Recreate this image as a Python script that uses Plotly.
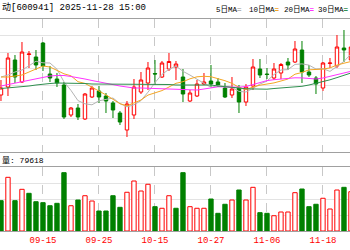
import plotly.graph_objects as go

dates = ["2025-09-05", "2025-09-08", "2025-09-09", "2025-09-10", "2025-09-11", "2025-09-12",
         "2025-09-15", "2025-09-16", "2025-09-17", "2025-09-18", "2025-09-19", "2025-09-22",
         "2025-09-23", "2025-09-24", "2025-09-25", "2025-09-26", "2025-09-29", "2025-09-30",
         "2025-10-09", "2025-10-10", "2025-10-13", "2025-10-14", "2025-10-15", "2025-10-16",
         "2025-10-17", "2025-10-20", "2025-10-21", "2025-10-22", "2025-10-23", "2025-10-24",
         "2025-10-27", "2025-10-28", "2025-10-29", "2025-10-30", "2025-10-31", "2025-11-03",
         "2025-11-04", "2025-11-05", "2025-11-06", "2025-11-07", "2025-11-10", "2025-11-11",
         "2025-11-12", "2025-11-13", "2025-11-14", "2025-11-17", "2025-11-18", "2025-11-19",
         "2025-11-20", "2025-11-21", "2025-11-24"]

opens = [105.5, 106.3, 109.0, 106.8, 109.55, 109.3, 110.7, 107.6, 107.1, 106.5,
         103.5, 104.2, 103.1, 105.3, 105.9, 105.4, 104.7, 103.7, 102.0, 103.5,
         105.8, 106.7, 107.65, 107.3, 108.1, 108.3, 107.3, 104.9, 105.4, 106.6,
         106.9, 106.8, 106.2, 105.5, 106.2, 104.8, 106.4, 108.1, 107.6, 107.2,
         107.7, 108.8, 108.8, 110.0, 107.8, 107.2, 106.2, 108.65, 108.4, 110.2,
         109.0]
highs = [107.0, 109.7, 109.5, 110.8, 109.9, 110.0, 110.8, 108.4, 107.7, 106.8,
         104.3, 104.6, 105.7, 106.4, 106.4, 105.7, 104.9, 103.9, 104.9, 107.1,
         107.8, 108.8, 109.0, 108.9, 109.7, 108.9, 108.1, 106.0, 107.0, 107.7,
         108.5, 107.2, 106.7, 107.3, 106.5, 106.6, 109.1, 109.1, 108.2, 108.7,
         108.7, 109.2, 110.9, 110.9, 108.5, 107.4, 108.8, 109.2, 111.5, 112.0,
         111.0]
lows = [104.9, 105.4, 106.7, 106.7, 108.2, 108.0, 107.9, 106.8, 106.3, 103.1,
        103.3, 103.0, 103.0, 105.2, 104.7, 103.7, 103.2, 102.5, 101.3, 103.1,
        105.6, 106.0, 106.5, 107.2, 107.9, 107.0, 104.8, 104.8, 105.3, 106.5,
        106.3, 106.3, 105.2, 105.2, 103.7, 104.4, 106.0, 107.2, 107.1, 107.0,
        107.1, 108.0, 108.7, 106.7, 107.3, 105.6, 105.9, 108.2, 108.2, 108.8,
        108.8]
closes = [106.2, 109.2, 107.3, 109.8, 109.6, 108.5, 108.4, 107.2, 106.7, 103.3,
          104.2, 103.3, 105.6, 106.2, 105.3, 104.9, 104.0, 102.8, 104.6, 106.3,
          107.0, 108.2, 107.6, 108.7, 108.85, 108.6, 105.6, 105.7, 106.6, 106.8,
          106.6, 106.5, 105.3, 106.1, 104.8, 106.3, 108.3, 107.5, 107.55, 108.1,
          108.55, 108.5, 110.1, 107.8, 107.5, 106.6, 108.7, 108.7, 110.3, 110.0,
          110.3]

ma5 = [107.3, 107.5, 107.8, 108.0, 108.42, 108.88, 108.72, 108.7, 108.08, 106.82,
       105.96, 104.94, 104.62, 104.52, 104.92, 105.06, 105.2, 104.64, 104.32, 104.52,
       104.94, 105.78, 106.74, 107.56, 108.07, 108.39, 107.87, 107.49, 107.07, 106.66,
       106.26, 106.44, 106.36, 106.26, 105.86, 105.8, 106.16, 106.6, 106.89, 107.55,
       108.0, 108.04, 108.56, 108.61, 108.49, 108.1, 108.14, 107.86, 108.36, 108.86,
       109.6]
ma10 = [107.3, 107.3, 107.4, 107.5, 107.8, 108.1, 108.4, 108.3, 108.0, 107.62,
        107.42, 106.83, 106.66, 106.3, 105.87, 105.51, 105.07, 104.63, 104.42, 104.72,
        105.0, 105.49, 105.69, 105.94, 106.3, 106.67, 106.83, 107.12, 107.32, 107.37,
        107.33, 107.16, 106.93, 106.67, 106.26, 106.03, 106.3, 106.48, 106.58, 106.71,
        106.9, 107.1, 107.58, 107.75, 108.02, 108.05, 108.09, 108.21, 108.49, 108.68,
        108.85]
ma20 = [106.4, 106.55, 106.7, 106.85, 107.0, 107.15, 107.3, 107.4, 107.45, 107.45,
        107.35, 107.25, 107.1, 106.95, 106.8, 106.65, 106.55, 106.4, 106.3, 106.2,
        106.2, 106.17, 106.17, 106.14, 106.1, 106.1, 106.05, 106.0, 106.0, 106.1,
        106.18, 106.32, 106.31, 106.3, 106.28, 106.35, 106.56, 106.78, 106.94, 107.03,
        107.1, 107.13, 107.22, 107.21, 107.16, 107.1, 107.2, 107.35, 107.53, 107.69,
        107.87]
ma30 = [106.15, 106.2, 106.3, 106.35, 106.4, 106.5, 106.6, 106.65, 106.7, 106.7,
        106.7, 106.65, 106.65, 106.6, 106.6, 106.6, 106.55, 106.55, 106.55, 106.55,
        106.55, 106.55, 106.55, 106.55, 106.55, 106.5, 106.5, 106.45, 106.45, 106.45,
        106.5, 106.4, 106.35, 106.3, 106.2, 106.12, 106.1, 106.07, 106.08, 106.15,
        106.2, 106.2, 106.27, 106.37, 106.5, 106.65, 106.82, 107.02, 107.24, 107.47,
        107.7]

volume = [75800, 134200, 75800, 104200, 94200, 73200, 70800, 63200, 69200, 145800,
          63200, 77500, 88200, 75000, 50000, 50000, 88200, 59200, 96800, 125000,
          100000, 116800, 60800, 56800, 88200, 56800, 145800, 60800, 56800, 56800,
          80000, 44200, 66800, 77500, 102500, 77500, 109200, 45800, 44200, 38200,
          47500, 47500, 95800, 105000, 60800, 66800, 81800, 55000, 102500, 109200,
          98200]
vol_up = [0, 1, 0, 1, 0, 0, 0, 0, 0, 0,
          1, 0, 1, 1, 0, 0, 0, 0, 1, 1,
          1, 1, 0, 1, 1, 0, 0, 1, 1, 1,
          0, 0, 0, 1, 0, 1, 1, 0, 0, 1,
          1, 1, 1, 0, 0, 0, 1, 1, 1, 0,
          1]

tick_dates = ["2025-09-15", "2025-09-25", "2025-10-15", "2025-10-27", "2025-11-06", "2025-11-18"]
tick_text = ["09-15", "09-25", "10-15", "10-27", "11-06", "11-18"]

title_text = "动[600941] 2025-11-28 15:00"
vol_text = "量: 79618"

RED = "#ff0000"
GREEN = "#008000"
ma_names = ["5日MA", "10日MA", "20日MA", "30日MA"]
ma_cols = ["#b4b4b4", "#f5a623", "#ff33ff", "#2f8f4f"]

fig = go.Figure()
fig.add_trace(go.Candlestick(
    x=dates, open=opens, high=highs, low=lows, close=closes,
    increasing=dict(line=dict(color=RED, width=1), fillcolor="#ffffff"),
    decreasing=dict(line=dict(color=GREEN, width=1), fillcolor=GREEN),
    whiskerwidth=0, showlegend=False, hoverinfo="skip", xaxis="x", yaxis="y"))

for name, color, vals in zip(ma_names, ma_cols, [ma5, ma10, ma20, ma30]):
    fig.add_trace(go.Scatter(x=dates, y=vals, mode="lines", name=name,
                             line=dict(color=color, width=1), showlegend=False,
                             hoverinfo="skip", xaxis="x", yaxis="y"))

bar_fill = ["#ffffff" if u else GREEN for u in vol_up]
bar_line = [RED if u else GREEN for u in vol_up]
fig.add_trace(go.Bar(x=dates, y=volume, width=0.62,
                     marker=dict(color=bar_fill, line=dict(color=bar_line, width=1)),
                     showlegend=False, hoverinfo="skip", xaxis="x2", yaxis="y2"))

axis_common = dict(type="category", range=[-0.14, 49.86], tickmode="array",
                   tickvals=tick_dates, ticktext=tick_text, showgrid=True,
                   gridcolor="#c8c8c8", griddash="dash", gridwidth=1,
                   showline=True, linecolor="#a0a0a0", linewidth=1, mirror=True,
                   ticks="", zeroline=False, fixedrange=True)

fig.update_layout(
    width=350, height=250, margin=dict(l=0, r=0, t=0, b=0),
    paper_bgcolor="#ffffff", plot_bgcolor="#ffffff",
    xaxis=dict(axis_common, anchor="y", showticklabels=False, rangeslider=dict(visible=False)),
    xaxis2=dict(axis_common, anchor="y2", matches="x", showticklabels=True,
                tickfont=dict(family="Liberation Mono", size=9, color=RED)),
    yaxis=dict(domain=[0.392, 0.924], range=[99.8, 113.1], tick0=99.8, dtick=1.6625,
               showticklabels=False, gridcolor="#e3e3e3", zeroline=False, fixedrange=True),
    yaxis2=dict(domain=[0.076, 0.332], range=[0, 160000], tick0=0, dtick=40000,
                showticklabels=False, gridcolor="#e3e3e3", zeroline=False, fixedrange=True),
    bargap=0.3,
)

fig.add_annotation(text=title_text, xref="paper", yref="paper", x=0, y=1 - 7.5 / 250,
                   xanchor="left", yanchor="middle", showarrow=False,
                   font=dict(family="Liberation Mono, Noto Sans CJK SC", size=9, color="#000000"))
fig.add_annotation(text=vol_text, xref="paper", yref="paper", x=0, y=1 - 160 / 250,
                   xanchor="left", yanchor="middle", showarrow=False,
                   font=dict(family="Liberation Mono, Noto Sans CJK SC", size=8, color="#000000"))

legend_x = [214, 247, 282, 316]
for name, color, lx in zip(ma_names, ma_cols, legend_x):
    fig.add_annotation(text=name + "<span style='color:%s'><b>=</b></span>" % color,
                       xref="paper", yref="paper", x=lx / 350, y=1 - 9 / 250,
                       xanchor="left", yanchor="middle", showarrow=False,
                       font=dict(family="Liberation Mono, Noto Sans CJK SC", size=7.5, color="#000000"))

fig.write_html("out.html")
